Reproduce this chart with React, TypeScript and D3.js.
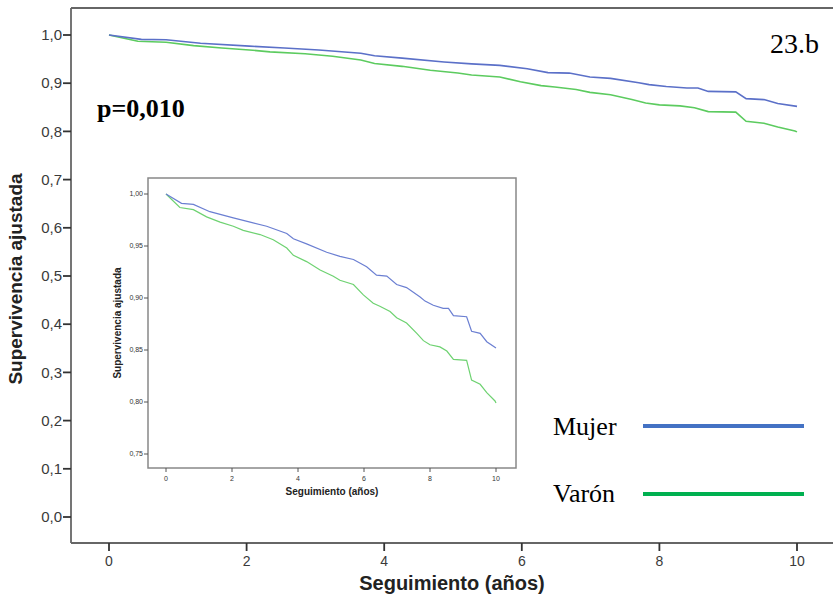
import React from "react";
import * as d3 from "d3";

// ---- data ----
const mujerYears = [0, 0.47, 0.83, 1.33, 2.04, 2.55, 3.05, 3.66, 3.86, 4.26, 4.87, 5.27, 5.68, 6.08, 6.38, 6.69, 6.99, 7.29, 7.7, 7.85, 8.1, 8.4, 8.56, 8.71, 9.11, 9.26, 9.52, 9.72, 10.0];
const mujerSurv = [1.0, 0.991, 0.99, 0.983, 0.977, 0.973, 0.969, 0.962, 0.957, 0.952, 0.944, 0.94, 0.937, 0.93, 0.922, 0.921, 0.913, 0.91, 0.901, 0.897, 0.893, 0.89, 0.89, 0.883, 0.882, 0.868, 0.866, 0.858, 0.852];
const varonYears = [0, 0.42, 0.83, 1.23, 1.64, 2.04, 2.34, 2.85, 3.25, 3.66, 3.86, 4.26, 4.67, 5.07, 5.27, 5.68, 5.98, 6.28, 6.48, 6.79, 6.99, 7.29, 7.6, 7.8, 8.0, 8.3, 8.51, 8.71, 9.11, 9.26, 9.52, 9.72, 9.97, 10.0];
const varonSurv = [1.0, 0.987, 0.985, 0.978, 0.973, 0.969, 0.965, 0.961, 0.956, 0.948, 0.941, 0.935, 0.927, 0.921, 0.917, 0.913, 0.903, 0.895, 0.892, 0.887, 0.881, 0.876, 0.866, 0.859, 0.855, 0.853, 0.849, 0.841, 0.84, 0.821, 0.817, 0.809, 0.801, 0.799];

const xTicks = [0, 2, 4, 6, 8, 10];
const mainYTicks = [0, 0.1, 0.2, 0.3, 0.4, 0.5, 0.6, 0.7, 0.8, 0.9, 1.0];
const insetYTicks = [0.75, 0.8, 0.85, 0.9, 0.95, 1.0];
const legendLabels = ["Mujer", "Varón"];
const pValueText = "p=0,010";
const panelLabel = "23.b";
const yTitle = "Supervivencia ajustada";
const xTitle = "Seguimiento (años)";

const SANS = "'Liberation Sans', Arial, sans-serif";
const SERIF = "'Liberation Serif', 'Times New Roman', serif";

const mujer = mujerYears.map((t, i) => [t, mujerSurv[i]] as [number, number]);
const varon = varonYears.map((t, i) => [t, varonSurv[i]] as [number, number]);

const comma = (f: string) => (v: number) => d3.format(f)(v).replace(".", ",");

export default function App() {
  const W = 833, H = 601;
  // main plot frame
  const mL = 71, mR = 833, mT = 8, mB = 543;
  const x = d3.scaleLinear().domain([0, 10]).range([109, 797]);
  const y = d3.scaleLinear().domain([0, 1]).range([517, 35]);
  // inset
  const iL = 148, iR = 516, iT = 178, iB = 468;
  const xi = d3.scaleLinear().domain([0, 10]).range([166, 496]);
  const yi = d3.scaleLinear().domain([0.8, 1.0]).range([402, 194]);

  const lineMain = d3.line<[number, number]>().x((d) => x(d[0])).y((d) => y(d[1]));
  const lineInset = d3.line<[number, number]>().x((d) => xi(d[0])).y((d) => yi(d[1]));

  const fMain = comma(".1f");
  const fInset = comma(".2f");
  const axisColor = "#666";
  const blue = "#5b70c8";
  const green = "#5ccb5f";

  return (
    <svg width={W} height={H} style={{ position: "absolute", left: 0, top: 0, background: "#fff" }}>
      {/* main frame */}
      <line x1={mL} x2={mR} y1={mT} y2={mT} stroke={axisColor} strokeWidth={1.8} />
      <line x1={mL} x2={mL} y1={mT} y2={mB} stroke={axisColor} strokeWidth={1.8} />
      <line x1={mL} x2={mR} y1={mB} y2={mB} stroke={axisColor} strokeWidth={1.8} />

      {/* main y ticks */}
      {mainYTicks.map((t) => (
        <g key={"my" + t}>
          <line x1={mL - 8} x2={mL} y1={y(t)} y2={y(t)} stroke="#333" strokeWidth={1.8} />
          <text x={mL - 9} y={y(t)} dy="0.35em" textAnchor="end" fontFamily={SANS} fontSize={15} fill="#3a3a3a">
            {fMain(t)}
          </text>
        </g>
      ))}
      {/* main x ticks */}
      {xTicks.map((t) => (
        <g key={"mx" + t}>
          <line x1={x(t)} x2={x(t)} y1={mB} y2={mB + 8} stroke="#333" strokeWidth={1.8} />
          <text x={x(t)} y={566} textAnchor="middle" fontFamily={SANS} fontSize={14} fill="#3a3a3a">
            {t}
          </text>
        </g>
      ))}

      {/* main titles */}
      <text x={(mL + mR) / 2} y={590} textAnchor="middle" fontFamily={SANS} fontWeight="bold" fontSize={20} fill="#222">
        {xTitle}
      </text>
      <text transform={`translate(22,${279}) rotate(-90)`} textAnchor="middle" fontFamily={SANS} fontWeight="bold" fontSize={19} fill="#222">
        {yTitle}
      </text>

      {/* main curves */}
      <path d={lineMain(varon) || ""} fill="none" stroke={green} strokeWidth={1.6} />
      <path d={lineMain(mujer) || ""} fill="none" stroke={blue} strokeWidth={1.6} />

      {/* annotations */}
      <text x={97} y={117} fontFamily={SERIF} fontWeight="bold" fontSize={26} fill="#000">
        {pValueText}
      </text>
      <text x={770} y={53} fontFamily={SERIF} fontSize={28} fill="#000">
        {panelLabel}
      </text>

      {/* inset */}
      <rect x={iL} y={iT} width={iR - iL} height={iB - iT} fill="#fff" stroke="#888" strokeWidth={1.5} />
      {insetYTicks.map((t) => (
        <g key={"iy" + t}>
          <line x1={iL - 4} x2={iL} y1={yi(t)} y2={yi(t)} stroke="#555" strokeWidth={1} />
          <text x={iL - 5} y={yi(t)} dy="0.35em" textAnchor="end" fontFamily={SANS} fontSize={7} fill="#333">
            {fInset(t)}
          </text>
        </g>
      ))}
      {xTicks.map((t) => (
        <g key={"ix" + t}>
          <line x1={xi(t)} x2={xi(t)} y1={iB} y2={iB + 4} stroke="#555" strokeWidth={1} />
          <text x={xi(t)} y={481} textAnchor="middle" fontFamily={SANS} fontSize={7} fill="#333">
            {t}
          </text>
        </g>
      ))}
      <text x={(iL + iR) / 2} y={495} textAnchor="middle" fontFamily={SANS} fontWeight="bold" fontSize={10} fill="#222">
        {xTitle}
      </text>
      <text transform={`translate(121,${323}) rotate(-90)`} textAnchor="middle" fontFamily={SANS} fontWeight="bold" fontSize={10} fill="#222">
        {yTitle}
      </text>
      <path d={lineInset(varon) || ""} fill="none" stroke="#6ed271" strokeWidth={1.2} />
      <path d={lineInset(mujer) || ""} fill="none" stroke="#6b7fd2" strokeWidth={1.2} />

      {/* legend */}
      {legendLabels.map((lab, i) => (
        <g key={lab}>
          <text x={553} y={435 + i * 67} fontFamily={SERIF} fontSize={26} fill="#000">
            {lab}
          </text>
          <line x1={643} x2={804} y1={426 + i * 68} y2={426 + i * 68} stroke={i === 0 ? "#4472c4" : "#00b050"} strokeWidth={4} />
        </g>
      ))}
    </svg>
  );
}
